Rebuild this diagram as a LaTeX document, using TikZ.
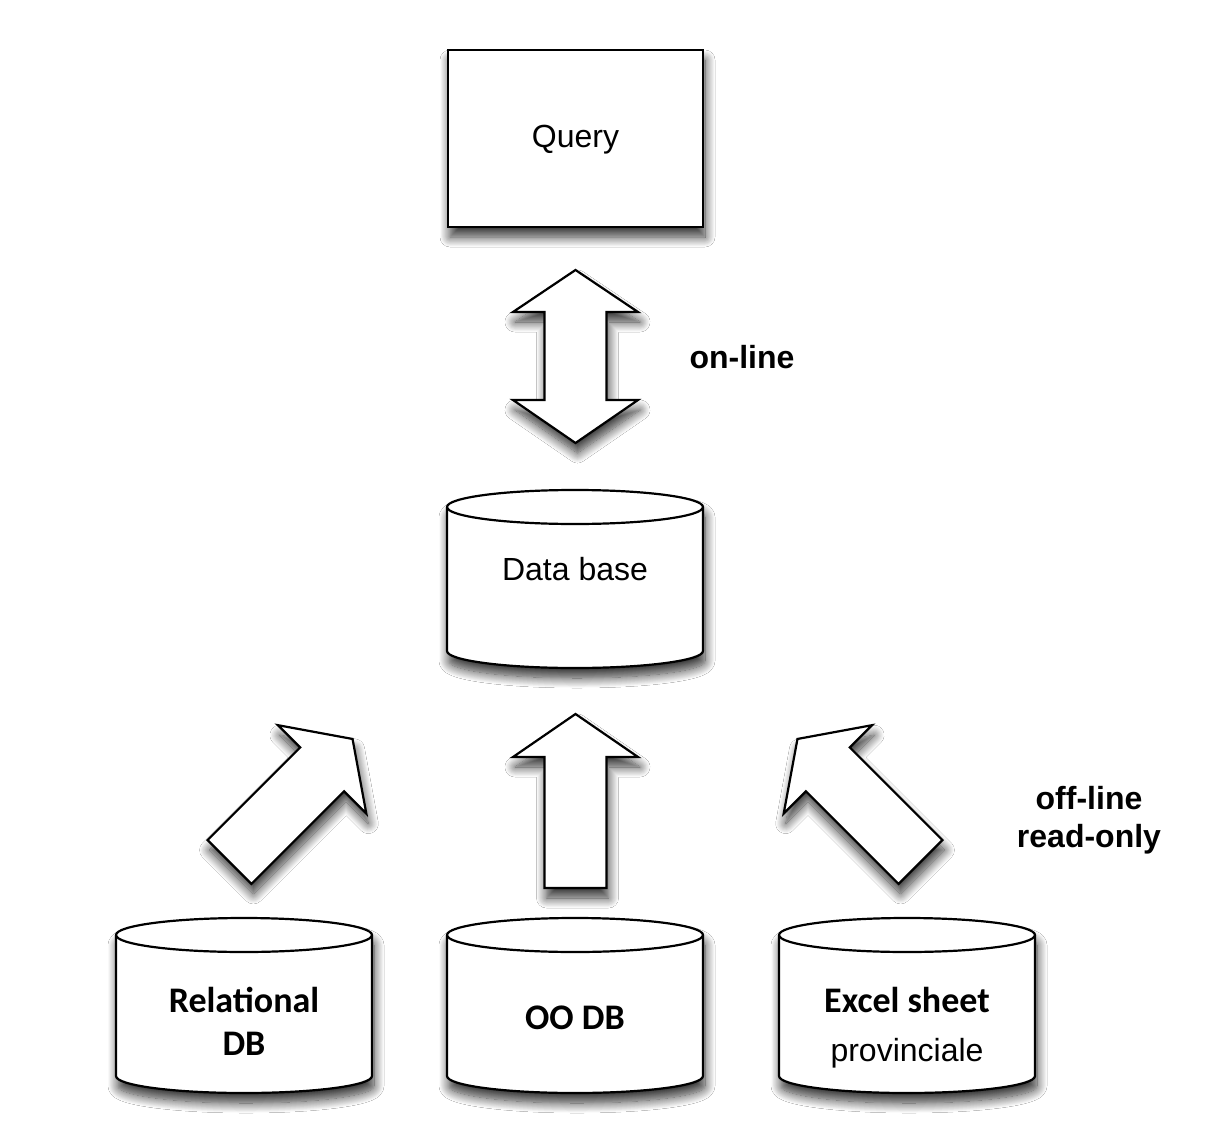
\documentclass[tikz,border=0pt]{standalone}
\usepackage{fontspec}
\setmainfont{Liberation Sans}
\newfontfamily\calibri{Carlito}
\usetikzlibrary{shadows.blur}

\tikzset{
  outl/.style={draw=black, line width=2.2pt, fill=white, line join=miter},
  shd/.style={blur shadow={shadow xshift=2pt, shadow yshift=-10pt, shadow blur radius=10pt, shadow blur steps=14, shadow opacity=80}},
  lbl/.style={font=\fontsize{32}{38}\selectfont, align=center, inner sep=0pt},
  blbl/.style={font=\bfseries\fontsize{32}{38}\selectfont, align=center, inner sep=0pt},
  cbl/.style={font=\calibri\bfseries\fontsize{36}{43}\selectfont, align=center, inner sep=0pt},
}

% cylinder: centre x, top ellipse centre y, bottom ellipse centre y, name
\newcommand\mycyl[4]{%
  \path[outl, shd] (#1-128,#2) -- (#1-128,#3)
     arc[start angle=180, end angle=0, x radius=128, y radius=17]
     -- (#1+128,#2)
     arc[start angle=0, end angle=-180, x radius=128, y radius=17] -- cycle;
  \draw[line width=2.2pt] (#1-128,#2)
     arc[start angle=180, end angle=0, x radius=128, y radius=17];
  \coordinate (#4) at (#1,{(#2+#3)/2});
}

\begin{document}
\begin{tikzpicture}[x=1pt,y=-1pt]
  \fill[white] (0,0) rectangle (1226,1142);
  \useasboundingbox (0,0) rectangle (1226,1142);

  % Query box
  \node[outl, shd, minimum width=255pt, minimum height=177pt] (query) at (575.5,138.5) {};
  \node[lbl] (qtext) at (575.5,140) {Query};

  % on-line double arrow
  \path[outl, shd] (575.5,270) -- (638,312) -- (606.5,312) -- (606.5,400) -- (638,400)
     -- (575.5,443) -- (513,400) -- (544.5,400) -- (544.5,312) -- (513,312) -- cycle;
  \node[blbl] (online) at (742,357) {on-line};

  % Data base cylinder
  \mycyl{575}{507}{651}{dbc}
  \node[lbl] (db) at (575,569) {Data base};

  % source cylinders
  \mycyl{244}{935}{1076}{relc}
  \mycyl{575}{935}{1076}{ooc}
  \mycyl{907}{935}{1076}{excc}
  \node[cbl] (rel) at (244,1021) {Relational\\DB};
  \node[cbl] (oo) at (575,1018) {OO DB};
  \node[cbl] (exc) at (907,1000) {Excel sheet};
  \node[lbl] (prov) at (907,1053) {provinciale};

  % up arrows
  \path[outl, shd] (207.58,840.08) -- (300.21,747.45) -- (277.94,725.18) -- (352.54,738.96)
     -- (366.32,813.56) -- (344.05,791.29) -- (251.42,883.92) -- cycle;
  \path[outl, shd] (544.5,888) -- (544.5,757) -- (513,757) -- (575.5,714) -- (638,757)
     -- (606.5,757) -- (606.5,888) -- cycle;
  \path[outl, shd] (942.42,840.08) -- (849.79,747.45) -- (872.06,725.18) -- (797.46,738.96)
     -- (783.68,813.56) -- (805.95,791.29) -- (898.58,883.92) -- cycle;

  \node[blbl] (offline) at (1089,820) {off-line\\read-only};
\end{tikzpicture}
\end{document}
